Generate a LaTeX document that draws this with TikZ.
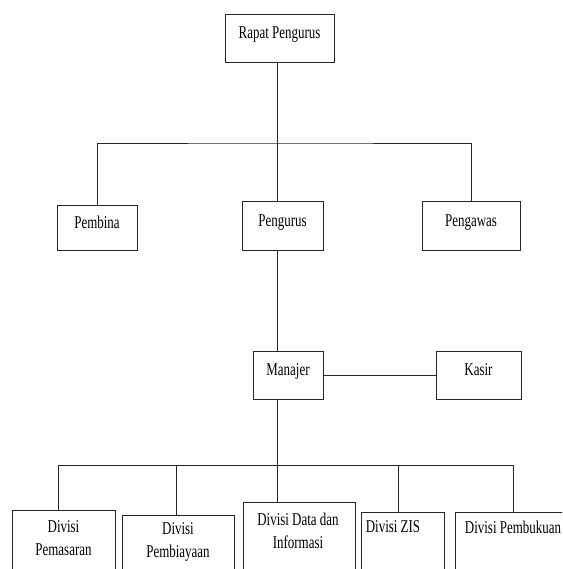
\documentclass[tikz,border=0pt]{standalone}
\usepackage{fontspec}
\setmainfont{Liberation Serif}[FakeStretch=0.72]
\begin{document}
\begin{tikzpicture}[x=1pt,y=-1pt,
  every node/.style={font=\fontsize{18}{23}\selectfont},
  box/.style={draw=black!85, line width=0.9pt, inner sep=0pt, text height=8pt, text depth=7pt},
  dbox/.style={draw=black!85, line width=0.9pt, inner sep=0pt, anchor=north, minimum height=90},
  txt/.style={inner sep=0pt, align=center},
  link/.style={draw=black!85, line width=0.9pt}]
\useasboundingbox (0,0) rectangle (562,569);
\clip (0,0) rectangle (562,569);
% top level
\node[box, minimum width=109, minimum height=48] (rapat) at (279.5,38) {Rapat Pengurus};
\node[box, minimum width=80, minimum height=45] (pembina) at (97,227.5) {Pembina};
\node[box, minimum width=81, minimum height=49] (pengurus) at (282.5,225.5) {Pengurus};
\node[box, minimum width=98, minimum height=49] (pengawas) at (471,225.5) {Pengawas};
\node[box, minimum width=70, minimum height=48] (manajer) at (288,375) {Manajer};
\node[box, minimum width=85, minimum height=48] (kasir) at (478.5,375) {Kasir};
% divisions
\node[dbox, minimum width=103] (d1) at (63.5,510) {};
\node[dbox, minimum width=112] (d2) at (178,515) {};
\node[dbox, minimum width=112] (d3) at (299,502) {};
\node[dbox, minimum width=83] (d4) at (402.5,512) {};
\node[dbox, minimum width=150] (d5) at (530,512) {};
\node[txt] (t1) at (63.5,538) {Divisi\\Pemasaran};
\node[txt] (t2) at (178,542) {Divisi\\Pembiayaan};
\node[txt] (t3) at (298,531) {Divisi Data dan\\Informasi};
\node[txt] (t4) at (393,527) {Divisi ZIS};
\node[txt] (t5) at (513,527) {Divisi Pembukuan};
% junctions
\coordinate (j1) at (277,143);
\coordinate (j2) at (277,465);
\coordinate (b1) at (58,465);
\coordinate (b2) at (176,465);
\coordinate (b4) at (398,465);
\coordinate (b5) at (513,465);
% connectors
\draw[link] (rapat.south -| j1) -- (pengurus.north -| j1);
\draw[link] (pembina.north) |- (j1) -| (pengawas.north);
\draw[link] (pengurus.south -| j1) -- (manajer.north -| j1);
\draw[link] (manajer.east) -- (kasir.west);
\draw[link] (manajer.south -| j2) -- (j2);
\draw[link] (b1) -- (b5);
\draw[link] (b1) -- (b1 |- d1.north);
\draw[link] (b2) -- (b2 |- d2.north);
\draw[link] (j2) -- (j2 |- d3.north);
\draw[link] (b4) -- (b4 |- d4.north);
\draw[link] (b5) -- (b5 |- d5.north);
\end{tikzpicture}
\end{document}
